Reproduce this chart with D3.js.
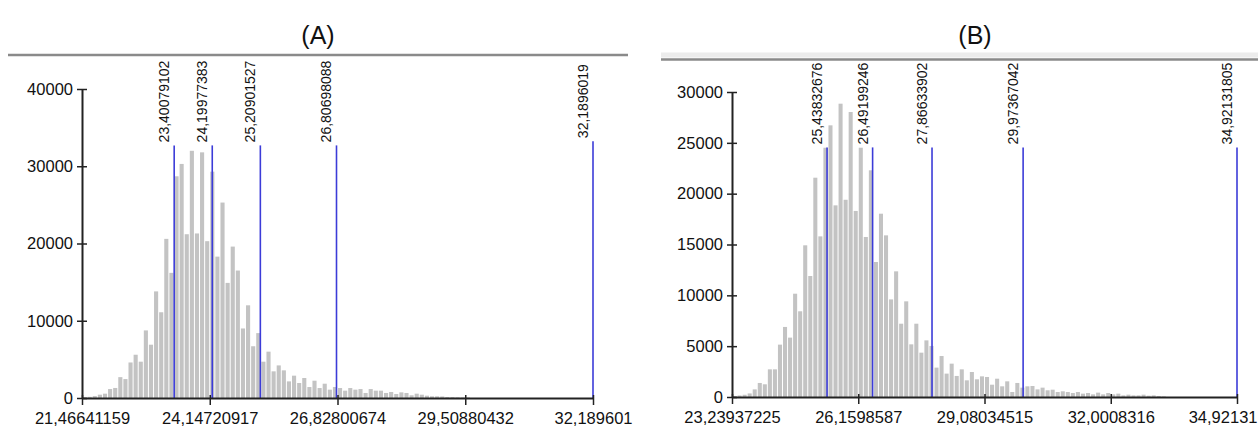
<!DOCTYPE html>
<html>
<head>
<meta charset="utf-8">
<script src="https://cdn.jsdelivr.net/npm/d3@7"></script>
<style>
  body { margin: 0; background: #fff; }
  svg { display: block; font-family: "Liberation Sans", Arial, sans-serif; }
</style>
</head>
<body>
<div id="chart"></div>
<script>
// panel A
const titleA = "(A)";
const domainA = [21.46641159, 32.189601];
const xTicksA = [21.46641159, 24.14720917, 26.82800674, 29.50880432, 32.189601];
const yTicksA = [0, 10000, 20000, 30000, 40000];
const countsA = [80, 150, 250, 430, 560, 1160, 1300, 2700, 2450, 4600,
  5600, 4700, 8750, 6900, 13800, 11100, 20600, 16200, 28700, 30300,
  21200, 32000, 21300, 31800, 20300, 29300, 18300, 25300, 14900, 19600,
  16500, 9000, 12000, 6700, 8400, 4700, 6000, 3450, 4220, 3580,
  2150, 2890, 1940, 2590, 1420, 2240, 1290, 1850, 1080, 1420,
  1290, 950, 1290, 1080, 1160, 650, 1160, 950, 950, 650,
  780, 520, 730, 650, 350, 560, 430, 300, 220, 220,
  200, 130, 130, 100, 80, 80];
const linesA = [23.40079102, 24.19977383, 25.20901527, 26.80698088, 32.1896019];
const lineLabelsA = ["23,40079102", "24,19977383", "25,20901527", "26,80698088", "32,1896019"];
const lineTopsA = [32700, 32700, 32700, 32700, 33250];

// panel B
const titleB = "(B)";
const domainB = [23.23937225, 34.92131];
const xTicksB = [23.23937225, 26.1598587, 29.08034515, 32.0008316, 34.92131];
const yTicksB = [0, 5000, 10000, 15000, 20000, 25000, 30000];
const countsB = [80, 150, 220, 350, 750, 1380, 1250, 2720, 2720, 5150,
  6890, 5840, 10160, 8430, 14920, 11900, 21570, 15800, 24520, 26720,
  18850, 28850, 19400, 28030, 18300, 24520, 15740, 22300, 13280, 18030,
  15900, 9600, 12360, 7210, 9410, 5180, 7210, 4360, 5570, 5020,
  2890, 4030, 2300, 3280, 2070, 2720, 1640, 2460, 1740, 2030,
  1970, 1210, 1800, 1050, 1540, 490, 1380, 920, 1050, 1080,
  750, 920, 660, 720, 490, 560, 490, 390, 490, 330,
  390, 260, 430, 260, 390, 260, 330, 160, 230, 160,
  160, 230, 130, 160, 100, 60];
const linesB = [25.43832676, 26.49199246, 27.86633902, 29.97367042, 34.92131805];
const lineLabelsB = ["25,43832676", "26,49199246", "27,86633902", "29,97367042", "34,92131805"];
const lineTopsB = [24550, 24550, 24550, 24550, 24550];

const nBins = 100;
const width = 1258, height = 426;

const svg = d3.select("#chart").append("svg")
  .attr("width", width)
  .attr("height", height);

const panels = [
  { title: titleA, domain: domainA, xTicks: xTicksA, yTicks: yTicksA, counts: countsA,
    lines: linesA, labels: lineLabelsA, tops: lineTopsA,
    xr: [82, 593], yr: [398, 89], titleX: 318, rule: [8, 628], ruleY: 55, band: false },
  { title: titleB, domain: domainB, xTicks: xTicksB, yTicks: yTicksB, counts: countsB,
    lines: linesB, labels: lineLabelsB, tops: lineTopsB,
    xr: [732, 1237], yr: [397, 92], titleX: 975, rule: [661, 1258], ruleY: 59.5, band: true }
];

const fmt = v => String(v).replace(".", ",");
const tickFont = "16.5px";

panels.forEach(p => {
  const g = svg.append("g");

  const x = d3.scaleLinear().domain(p.domain).range(p.xr);
  const y = d3.scaleLinear().domain([0, d3.max(p.yTicks)]).range(p.yr);
  const bw = (p.domain[1] - p.domain[0]) / nBins;

  // title + header rule
  g.append("text")
    .attr("x", p.titleX)
    .attr("y", 44)
    .attr("text-anchor", "middle")
    .style("font-size", "25px")
    .style("fill", "#111")
    .text(p.title);

  if (p.band) {
    g.append("rect")
      .attr("x", p.rule[0]).attr("y", p.ruleY - 7)
      .attr("width", p.rule[1] - p.rule[0]).attr("height", 5)
      .style("fill", "#ececec");
  }
  g.append("line")
    .attr("x1", p.rule[0]).attr("x2", p.rule[1])
    .attr("y1", p.ruleY).attr("y2", p.ruleY)
    .style("stroke", "#8a8a8a")
    .style("stroke-width", 2.5);

  // histogram bars
  g.append("g").selectAll("rect")
    .data(p.counts)
    .join("rect")
    .attr("x", (d, i) => x(p.domain[0] + i * bw) + 0.5)
    .attr("width", (d, i) => x(p.domain[0] + (i + 1) * bw) - x(p.domain[0] + i * bw) - 1)
    .attr("y", d => y(d))
    .attr("height", d => y(0) - y(d))
    .style("fill", "#c3c3c3");

  // quantile lines
  g.append("g").selectAll("line")
    .data(p.lines)
    .join("line")
    .attr("x1", d => x(d)).attr("x2", d => x(d))
    .attr("y1", y(0))
    .attr("y2", (d, i) => y(p.tops[i]))
    .style("stroke", "#3c3cd8")
    .style("stroke-width", 1.6);

  g.append("g").selectAll("text")
    .data(p.lines)
    .join("text")
    .attr("transform", (d, i) => `translate(${x(d) - 5},${y(p.tops[i]) - 3}) rotate(-90)`)
    .style("font-size", "14px")
    .style("fill", "#111")
    .text((d, i) => p.labels[i]);

  // axes
  const yAxis = g.append("g")
    .attr("transform", `translate(${p.xr[0]},0)`)
    .call(d3.axisLeft(y).tickValues(p.yTicks).tickSize(5).tickSizeOuter(0).tickPadding(4).tickFormat(d => d));
  yAxis.selectAll(".tick line").attr("x1", 5);

  const xAxis = g.append("g")
    .attr("transform", `translate(0,${p.yr[0]})`)
    .call(d3.axisBottom(x).tickValues(p.xTicks).tickSize(7).tickSizeOuter(0).tickPadding(7).tickFormat(fmt));
  xAxis.selectAll(".tick line").attr("y1", -3);

  [yAxis, xAxis].forEach(a => {
    a.select(".domain").style("stroke", "#222").style("stroke-width", 2);
    a.selectAll(".tick line").style("stroke", "#222").style("stroke-width", 1.5);
    a.selectAll("text").style("font-size", tickFont).style("fill", "#111")
      .style("font-family", "\"Liberation Sans\", Arial, sans-serif");
  });

  // keep the last x label inside the page
  xAxis.selectAll(".tick text").each(function (d) {
    const box = this.getBBox();
    const right = x(d) + box.width / 2;
    if (right > width - 1) {
      d3.select(this).attr("text-anchor", "end").attr("x", width - 1 - x(d));
    }
  });
});
</script>
</body>
</html>
